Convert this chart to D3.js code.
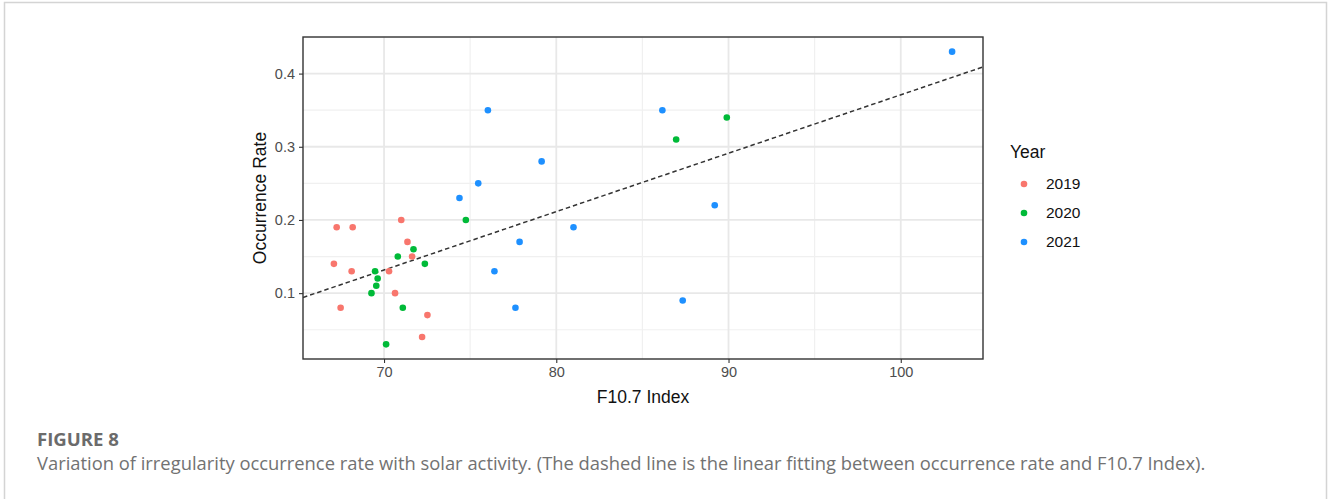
<!DOCTYPE html>
<html>
<head>
<meta charset="utf-8">
<script src="https://cdn.jsdelivr.net/npm/d3@7"></script>
<style>
  html, body { margin: 0; padding: 0; background: #fff; }
  svg { display: block; }
</style>
</head>
<body>
<svg id="chart" width="1328" height="499"></svg>
<script>
// F10.7 index and irregularity occurrence rate, one array pair per year
const years = ["2019", "2020", "2021"];
const yearColors = ["#F8766D", "#00BA38", "#1E90FF"];

const f107_2019 = [67.25, 68.18, 71.0, 67.09, 68.12, 71.36, 71.63, 70.29, 70.64, 67.48, 72.52, 72.21];
const rate_2019 = [0.19, 0.19, 0.20, 0.14, 0.13, 0.17, 0.15, 0.13, 0.10, 0.08, 0.07, 0.04];

const f107_2020 = [74.75, 71.71, 70.8, 72.37, 69.48, 69.63, 69.55, 69.27, 71.09, 70.12, 86.96, 89.9];
const rate_2020 = [0.20, 0.16, 0.15, 0.14, 0.13, 0.12, 0.11, 0.10, 0.08, 0.03, 0.31, 0.34];

const f107_2021 = [76.03, 79.15, 75.47, 74.38, 81.0, 77.87, 76.41, 77.63, 86.16, 102.98, 89.2, 87.34];
const rate_2021 = [0.35, 0.28, 0.25, 0.23, 0.19, 0.17, 0.13, 0.08, 0.35, 0.43, 0.22, 0.09];

const xTicks = [70, 80, 90, 100];
const xMinor = [65, 75, 85, 95];
const yTicks = [0.1, 0.2, 0.3, 0.4];
const yMinor = [0.05, 0.15, 0.25, 0.35, 0.45];

const figureLabel = "FIGURE 8";
const captionText = "Variation of irregularity occurrence rate with solar activity. (The dashed line is the linear fitting between occurrence rate and F10.7 Index).";

// long-format rows
const seriesX = [f107_2019, f107_2020, f107_2021];
const seriesY = [rate_2019, rate_2020, rate_2021];
const points = [];
years.forEach((yr, i) => {
  seriesX[i].forEach((x, j) => points.push({ year: yr, x: x, y: seriesY[i][j] }));
});

const svg = d3.select("#chart");
const sans = "'Liberation Sans', Arial, sans-serif";

// page frame
svg.append("path")
  .attr("d", "M4.5,499 V2.5 H1326.5 V499")
  .attr("fill", "none")
  .attr("stroke", "#d4d4d4")
  .attr("stroke-width", 1.5);

// panel box
const panel = { left: 303, right: 983, top: 37, bottom: 359 };

// 5% expansion around the data range
function expanded(vals) {
  const [lo, hi] = d3.extent(vals);
  const pad = (hi - lo) * 0.05;
  return [lo - pad, hi + pad];
}
const x = d3.scaleLinear().domain(expanded(points.map(d => d.x))).range([panel.left, panel.right]);
const y = d3.scaleLinear().domain(expanded(points.map(d => d.y))).range([panel.bottom, panel.top]);

const plot = svg.append("g");

const clipId = "panel-clip";
svg.append("defs").append("clipPath").attr("id", clipId)
  .append("rect")
  .attr("x", panel.left).attr("y", panel.top)
  .attr("width", panel.right - panel.left).attr("height", panel.bottom - panel.top);

// grid: minor then major
const grid = plot.append("g").attr("clip-path", `url(#${clipId})`);
grid.selectAll("line.xminor").data(xMinor).join("line")
  .attr("x1", d => x(d)).attr("x2", d => x(d))
  .attr("y1", panel.top).attr("y2", panel.bottom)
  .attr("stroke", "#f0f0f0").attr("stroke-width", 1.2);
grid.selectAll("line.yminor").data(yMinor).join("line")
  .attr("y1", d => y(d)).attr("y2", d => y(d))
  .attr("x1", panel.left).attr("x2", panel.right)
  .attr("stroke", "#f0f0f0").attr("stroke-width", 1.2);
grid.selectAll("line.xmajor").data(xTicks).join("line")
  .attr("x1", d => x(d)).attr("x2", d => x(d))
  .attr("y1", panel.top).attr("y2", panel.bottom)
  .attr("stroke", "#e8e8e8").attr("stroke-width", 1.8);
grid.selectAll("line.ymajor").data(yTicks).join("line")
  .attr("y1", d => y(d)).attr("y2", d => y(d))
  .attr("x1", panel.left).attr("x2", panel.right)
  .attr("stroke", "#e8e8e8").attr("stroke-width", 1.8);

// least-squares fit of rate on F10.7
const mx = d3.mean(points, d => d.x);
const my = d3.mean(points, d => d.y);
const slope = d3.sum(points, d => (d.x - mx) * (d.y - my)) / d3.sum(points, d => (d.x - mx) ** 2);
const intercept = my - slope * mx;
const xd = x.domain();
grid.append("line")
  .attr("x1", x(xd[0])).attr("y1", y(intercept + slope * xd[0]))
  .attr("x2", x(xd[1])).attr("y2", y(intercept + slope * xd[1]))
  .attr("stroke", "#333")
  .attr("stroke-width", 1.5)
  .attr("stroke-dasharray", "4.5,3");

// points
const color = d3.scaleOrdinal().domain(years).range(yearColors);
plot.append("g").selectAll("circle").data(points).join("circle")
  .attr("cx", d => x(d.x))
  .attr("cy", d => y(d.y))
  .attr("r", 3.3)
  .attr("fill", d => color(d.year));

// axes
const xAxis = d3.axisBottom(x).tickValues(xTicks).tickSize(4).tickPadding(4).tickFormat(d3.format("d"));
const yAxis = d3.axisLeft(y).tickValues(yTicks).tickSize(4).tickPadding(4).tickFormat(d3.format(".1f"));

const gx = svg.append("g").attr("transform", `translate(0,${panel.bottom})`).call(xAxis);
const gy = svg.append("g").attr("transform", `translate(${panel.left},0)`).call(yAxis);
[gx, gy].forEach(g => {
  g.select(".domain").remove();
  g.selectAll(".tick line").attr("stroke", "#333").attr("stroke-width", 1.1);
  g.selectAll(".tick text")
    .attr("fill", "#4d4d4d")
    .style("font-family", sans)
    .style("font-size", "14.5px");
});

// panel border
svg.append("rect")
  .attr("x", panel.left).attr("y", panel.top)
  .attr("width", panel.right - panel.left).attr("height", panel.bottom - panel.top)
  .attr("fill", "none")
  .attr("stroke", "#333")
  .attr("stroke-width", 1.4);

// axis titles
svg.append("text")
  .attr("x", (panel.left + panel.right) / 2)
  .attr("y", 403)
  .attr("text-anchor", "middle")
  .style("font-family", sans)
  .style("font-size", "17.5px")
  .attr("fill", "#111")
  .text("F10.7 Index");

svg.append("text")
  .attr("transform", `translate(266,${(panel.top + panel.bottom) / 2}) rotate(-90)`)
  .attr("text-anchor", "middle")
  .style("font-family", sans)
  .style("font-size", "17.5px")
  .attr("fill", "#111")
  .text("Occurrence Rate");

// legend
const legend = svg.append("g").attr("transform", "translate(1010,0)");
legend.append("text")
  .attr("x", 0).attr("y", 158)
  .style("font-family", sans)
  .style("font-size", "17.5px")
  .attr("fill", "#111")
  .text("Year");
const legendY = d3.scalePoint().domain(years).range([184, 242]);
const items = legend.selectAll("g.item").data(years).join("g")
  .attr("transform", d => `translate(0,${legendY(d)})`);
items.append("circle")
  .attr("cx", 14).attr("cy", 0).attr("r", 3.3)
  .attr("fill", d => color(d));
items.append("text")
  .attr("x", 36).attr("y", 0)
  .attr("dy", "0.35em")
  .style("font-family", sans)
  .style("font-size", "15.5px")
  .attr("fill", "#111")
  .text(d => d);

// figure label and caption
const fig = svg.append("text")
  .attr("x", 37).attr("y", 446)
  .style("font-family", "'Open Sans', sans-serif")
  .style("font-weight", "700")
  .style("font-size", "17px")
  .attr("fill", "#6b6b6b")
  .text(figureLabel);

const cap = svg.append("text")
  .attr("x", 37).attr("y", 470)
  .style("font-family", "'Open Sans', sans-serif")
  .style("font-size", "16px")
  .attr("fill", "#727272")
  .text(captionText);

// size the caption lines to their set widths
function fitWidth(sel, target) {
  const w = sel.node().getComputedTextLength();
  const fs = parseFloat(sel.style("font-size"));
  sel.style("font-size", (fs * target / w).toFixed(2) + "px");
}
fitWidth(fig, 82);
fitWidth(cap, 1169);
</script>
</body>
</html>
